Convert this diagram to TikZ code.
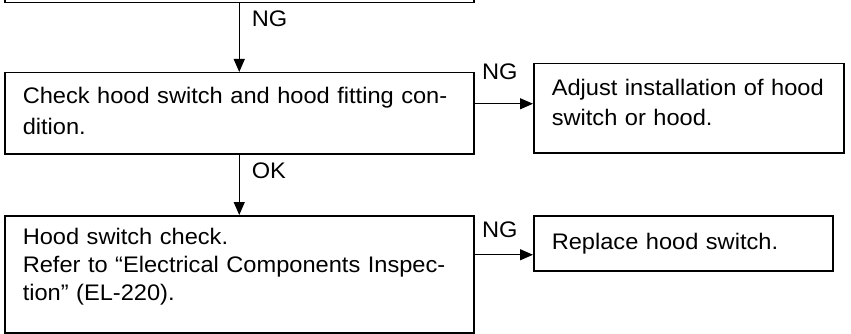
\documentclass[tikz,border=0pt]{standalone}
\usepackage{fontspec}
\setmainfont{Liberation Sans}[FakeStretch=1.05]
\usetikzlibrary{arrows.meta}
\begin{document}
\begin{tikzpicture}[x=1pt,y=-1pt,
  boite/.style={draw, line width=1.5pt, inner xsep=18pt, inner ysep=0pt,
    align=left, anchor=north west, text height=16.4pt,
    font=\fontsize{22.5}{30}\selectfont},
  fleche/.style={line width=1.2pt, -{Triangle[length=13pt,width=11pt]}},
  etiq/.style={font=\fontsize{22.5}{26}\selectfont, inner sep=0pt}]
  % Cadre de l'image
  \useasboundingbox (0,0) rectangle (851,334);
  \clip (0,0) rectangle (851,334);

  % Etape precedente (coupee en haut)
  \node[boite, text width=433pt, minimum height=62pt] (prev) at (4,-60) {};
  % Controle du contacteur de capot
  \node[boite, text width=433pt, minimum height=81pt, text depth=36pt,
    font=\fontsize{22.5}{31}\selectfont] (chk) at (4,72)
    {Check hood switch and hood fitting con-\\dition.};
  \node[boite, text width=274pt, minimum height=89pt, text depth=41.4pt] (adj) at (533,63)
    {Adjust installation of hood\\switch or hood.};
  % Controle du contacteur
  \node[boite, text width=433pt, minimum height=117pt, text depth=75pt,
    font=\fontsize{22.5}{28}\selectfont] (insp) at (4,215)
    {Hood switch check.\\Refer to ``Electrical Components Inspec-\\tion'' (EL-220).};
  \node[boite, text width=263pt, minimum height=55pt, text depth=3.5pt] (repl) at (533,215)
    {Replace hood switch.};

  % Fleches
  \draw[fleche] (prev.south) -- (chk.north) node[etiq, pos=.23, right=12pt] {NG};
  \draw[fleche] (chk.south) -- (insp.north) node[etiq, pos=.27, right=12pt] {OK};
  \draw[fleche] ([yshift=9.5pt]chk.east) -- ([yshift=9.5pt]chk.east -| adj.west)
    node[etiq, pos=0, anchor=south west, xshift=7pt, yshift=23pt] {NG};
  \draw[fleche] ([yshift=19.5pt]insp.east) -- ([yshift=19.5pt]insp.east -| repl.west)
    node[etiq, pos=0, anchor=south west, xshift=7pt, yshift=16pt] {NG};
\end{tikzpicture}
\end{document}
